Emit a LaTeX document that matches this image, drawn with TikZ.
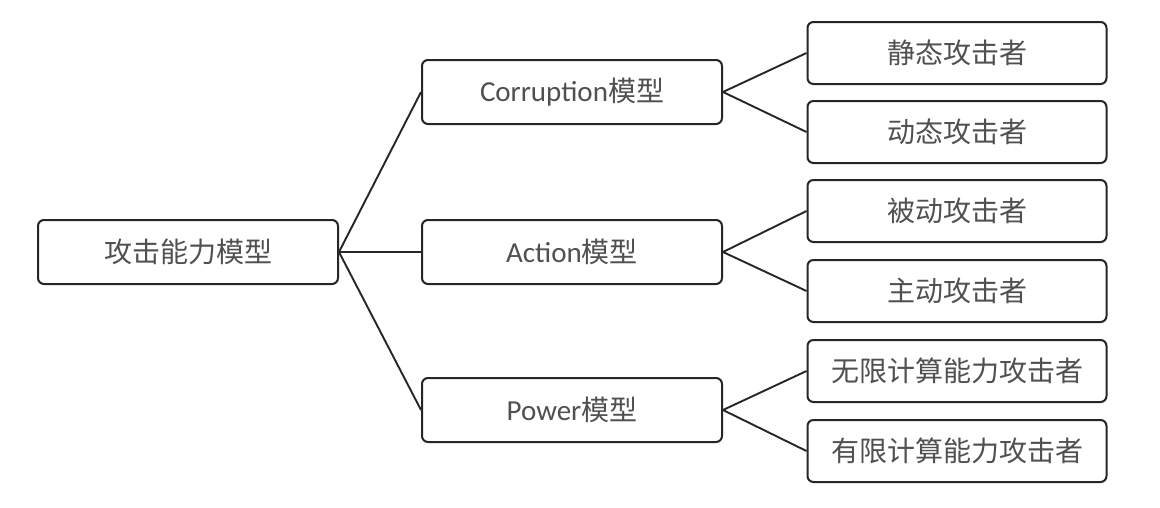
\documentclass[tikz,border=0pt]{standalone}
\usepackage{fontspec}
\setmainfont{Carlito}
\newfontfamily\cjk{Noto Sans CJK SC}
\newcommand{\zh}[1]{{\cjk #1}}
\definecolor{txt}{HTML}{505050}
\definecolor{edge}{HTML}{262626}
\begin{document}
\begin{tikzpicture}[x=1pt,y=-1pt,
  box/.style={draw=edge,line width=2pt,rounded corners=6pt,minimum height=62pt,inner sep=0pt,text=txt,font=\fontsize{28}{30}\selectfont,anchor=center},
  wide/.style={box,minimum width=300pt},
  leaf/.style={box,minimum width=299pt},
  link/.style={draw=edge,line width=1.9pt}]
\useasboundingbox (0,0) rectangle (1160,507);
\fill[white] (0,0) rectangle (1160,507);
\node[wide,minimum height=64pt] (root) at (188,252) {\zh{攻击能力模型}};
\node[wide,minimum height=64pt] (corr) at (572,92) {{\fontsize{29}{30}\selectfont Corruption}\zh{模型}};
\node[wide,minimum height=64pt] (act) at (572,252) {{\fontsize{29}{30}\selectfont Action}\zh{模型}};
\node[wide,minimum height=64pt] (pow) at (572,410) {{\fontsize{29}{30}\selectfont Power}\zh{模型}};
\node[leaf] (s1) at (957,53) {\zh{静态攻击者}};
\node[leaf] (s2) at (957,132) {\zh{动态攻击者}};
\node[leaf] (a1) at (957,211) {\zh{被动攻击者}};
\node[leaf] (a2) at (957,291) {\zh{主动攻击者}};
\node[leaf] (p1) at (957,371) {\zh{无限计算能力攻击者}};
\node[leaf] (p2) at (957,451) {\zh{有限计算能力攻击者}};
\draw[link] (root.east) -- (corr.west);
\draw[link] (root.east) -- (act.west);
\draw[link] (root.east) -- (pow.west);
\draw[link] (corr.east) -- (s1.west);
\draw[link] (corr.east) -- (s2.west);
\draw[link] (act.east) -- (a1.west);
\draw[link] (act.east) -- (a2.west);
\draw[link] (pow.east) -- (p1.west);
\draw[link] (pow.east) -- (p2.west);
\end{tikzpicture}
\end{document}
